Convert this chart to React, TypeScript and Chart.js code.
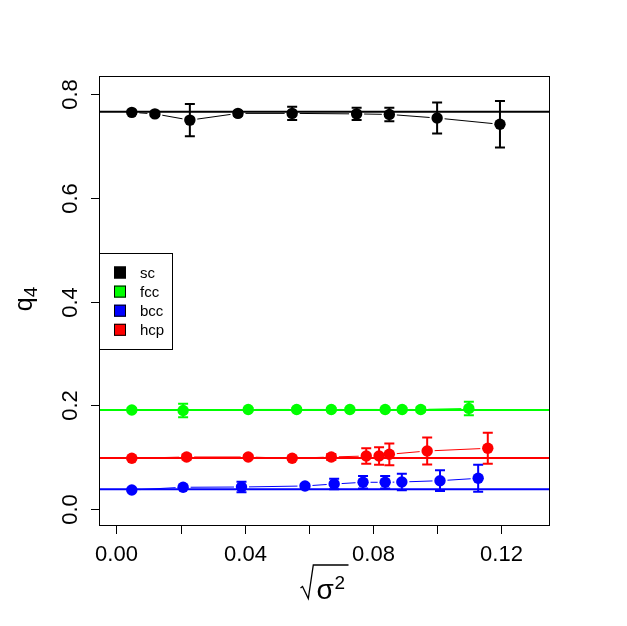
import { useEffect, useRef } from 'react';
import { Chart, registerables } from 'chart.js';

Chart.register(...registerables);

const FONT = '"Liberation Sans", Arial, sans-serif';

// sc
const scX = [0.0048, 0.0120, 0.0229, 0.0379, 0.0548, 0.0749, 0.0851, 0.1000, 0.1196];
const scY = [0.765, 0.762, 0.750, 0.763, 0.763, 0.762, 0.761, 0.754, 0.742];
const scErr = [0.003, 0.004, 0.031, 0.004, 0.013, 0.012, 0.013, 0.030, 0.045];

// fcc
const fccX = [0.0048, 0.0208, 0.0411, 0.0562, 0.0670, 0.0728, 0.0838, 0.0891, 0.0949, 0.1099];
const fccY = [0.191, 0.190, 0.192, 0.192, 0.192, 0.192, 0.192, 0.192, 0.192, 0.194];
const fccErr = [0.003, 0.013, 0.003, 0.003, 0.003, 0.003, 0.003, 0.003, 0.004, 0.013];

// bcc
const bccX = [0.0048, 0.0208, 0.0390, 0.0588, 0.0679, 0.0769, 0.0838, 0.0890, 0.1009, 0.1128];
const bccY = [0.0366, 0.0419, 0.0424, 0.0444, 0.0482, 0.0515, 0.0515, 0.0521, 0.0546, 0.0592];
const bccErr = [0.002, 0.003, 0.010, 0.004, 0.010, 0.012, 0.012, 0.016, 0.020, 0.026];

// hcp
const hcpX = [0.0048, 0.0219, 0.0411, 0.0548, 0.0670, 0.0779, 0.0819, 0.0851, 0.0969, 0.1158];
const hcpY = [0.0978, 0.1003, 0.1003, 0.0978, 0.1003, 0.1022, 0.1022, 0.1055, 0.1119, 0.1171];
const hcpErr = [0.002, 0.005, 0.003, 0.003, 0.006, 0.015, 0.017, 0.021, 0.026, 0.030];

const seriesNames = ['sc', 'fcc', 'bcc', 'hcp'];
const seriesColors = ['#000000', '#00ff00', '#0000ff', '#ff0000'];
const seriesX = [scX, fccX, bccX, hcpX];
const seriesY = [scY, fccY, bccY, hcpY];
const seriesErr = [scErr, fccErr, bccErr, hcpErr];
// horizontal reference levels (abline)
const refLevels = [0.766, 0.191, 0.038, 0.0984];

const xTicks = [0, 0.02, 0.04, 0.06, 0.08, 0.1, 0.12];
const xTickLabels = ['0.00', '', '0.04', '', '0.08', '', '0.12'];
const yTicks = [0, 0.2, 0.4, 0.6, 0.8];
const yTickLabels = ['0.0', '0.2', '0.4', '0.6', '0.8'];

const GAP = 7.5;

const rStyle = {
  id: 'rStyle',
  beforeDatasetsDraw(chart: any) {
    // type = "b" style lines, broken around the points
    const ctx = chart.ctx;
    const { left, top, right, bottom } = chart.chartArea;
    ctx.save();
    ctx.beginPath();
    ctx.rect(left, top, right - left, bottom - top);
    ctx.clip();
    ctx.lineWidth = 1;
    chart.data.datasets.forEach((ds: any, i: number) => {
      const pts = chart.getDatasetMeta(i).data;
      ctx.strokeStyle = ds.backgroundColor;
      for (let k = 0; k < pts.length - 1; k++) {
        const a = pts[k];
        const b = pts[k + 1];
        const dx = b.x - a.x;
        const dy = b.y - a.y;
        const d = Math.hypot(dx, dy);
        if (d <= 2 * GAP) continue;
        const ux = dx / d;
        const uy = dy / d;
        ctx.beginPath();
        ctx.moveTo(a.x + ux * GAP, a.y + uy * GAP);
        ctx.lineTo(b.x - ux * GAP, b.y - uy * GAP);
        ctx.stroke();
      }
    });
    ctx.restore();
  },
  afterDatasetsDraw(chart: any) {
    const ctx = chart.ctx;
    const xs = chart.scales.x;
    const ys = chart.scales.y;
    const { left, top, right, bottom } = chart.chartArea;
    ctx.save();
    ctx.beginPath();
    ctx.rect(left, top, right - left, bottom - top);
    ctx.clip();
    // error bars
    ctx.lineWidth = 2;
    seriesX.forEach((xv, i) => {
      ctx.strokeStyle = seriesColors[i];
      xv.forEach((x, k) => {
        const e = seriesErr[i][k];
        const px = xs.getPixelForValue(x);
        const y1 = ys.getPixelForValue(seriesY[i][k] + e);
        const y2 = ys.getPixelForValue(seriesY[i][k] - e);
        ctx.beginPath();
        ctx.moveTo(px, y1);
        ctx.lineTo(px, y2);
        ctx.moveTo(px - 5, y1);
        ctx.lineTo(px + 5, y1);
        ctx.moveTo(px - 5, y2);
        ctx.lineTo(px + 5, y2);
        ctx.stroke();
      });
    });
    // reference lines
    refLevels.forEach((v, i) => {
      const py = ys.getPixelForValue(v);
      ctx.strokeStyle = seriesColors[i];
      ctx.beginPath();
      ctx.moveTo(left, py);
      ctx.lineTo(right, py);
      ctx.stroke();
    });
    ctx.restore();
  },
  afterDraw(chart: any) {
    const ctx = chart.ctx;
    const xs = chart.scales.x;
    const ys = chart.scales.y;
    const { left, top, right, bottom } = chart.chartArea;
    ctx.save();
    ctx.strokeStyle = '#000';
    ctx.fillStyle = '#000';
    ctx.lineWidth = 1;
    ctx.strokeRect(left + 0.5, top + 0.5, right - left - 1, bottom - top - 1);

    // x axis
    ctx.font = `22px ${FONT}`;
    ctx.textAlign = 'center';
    ctx.textBaseline = 'alphabetic';
    xTicks.forEach((v, i) => {
      const px = Math.round(xs.getPixelForValue(v)) + 0.5;
      ctx.beginPath();
      ctx.moveTo(px, bottom);
      ctx.lineTo(px, bottom + 8);
      ctx.stroke();
      if (xTickLabels[i]) ctx.fillText(xTickLabels[i], px, 561);
    });

    // y axis
    yTicks.forEach((v, i) => {
      const py = Math.round(ys.getPixelForValue(v)) + 0.5;
      ctx.beginPath();
      ctx.moveTo(left, py);
      ctx.lineTo(left - 8, py);
      ctx.stroke();
      ctx.save();
      ctx.translate(77, py);
      ctx.rotate(-Math.PI / 2);
      ctx.fillText(yTickLabels[i], 0, 0);
      ctx.restore();
    });

    // y title: q with subscript 4
    ctx.save();
    ctx.translate(31.5, (top + bottom) / 2 - 2);
    ctx.rotate(-Math.PI / 2);
    ctx.textAlign = 'left';
    ctx.font = `25px ${FONT}`;
    ctx.fillText('q', -12.2, 0);
    ctx.font = `19px ${FONT}`;
    ctx.fillText('4', 1.8, 5.4);
    ctx.restore();

    // x title: sqrt(sigma^2)
    ctx.textAlign = 'left';
    ctx.lineWidth = 1.3;
    ctx.beginPath();
    ctx.moveTo(300.5, 588);
    ctx.lineTo(302.5, 586.5);
    ctx.lineTo(308.3, 598.5);
    ctx.lineTo(313.3, 565);
    ctx.lineTo(348.5, 565);
    ctx.stroke();
    ctx.font = `28px ${FONT}`;
    ctx.fillText('σ', 316.5, 599);
    ctx.font = `19px ${FONT}`;
    ctx.fillText('2', 334.5, 588.5);

    // legend
    ctx.lineWidth = 1;
    ctx.strokeRect(99.5, 253.5, 73, 96);
    ctx.font = `15px ${FONT}`;
    ctx.textBaseline = 'middle';
    seriesNames.forEach((name, i) => {
      const cy = 272.5 + i * 19.1;
      ctx.fillStyle = seriesColors[i];
      ctx.fillRect(114, cy - 6, 12, 12);
      ctx.strokeStyle = '#000';
      ctx.strokeRect(114.5, cy - 5.5, 11, 11);
      ctx.fillStyle = '#000';
      ctx.fillText(name, 140, cy + 1);
    });
    ctx.restore();
  },
};

export default function App() {
  const canvasRef = useRef<HTMLCanvasElement | null>(null);

  useEffect(() => {
    if (!canvasRef.current) return;
    const chart = new Chart(canvasRef.current, {
      type: 'scatter',
      data: {
        datasets: seriesNames.map((name, i) => ({
          label: name,
          data: seriesX[i].map((x, k) => ({ x, y: seriesY[i][k] })),
          backgroundColor: seriesColors[i],
          borderColor: seriesColors[i],
          borderWidth: 0,
          pointRadius: 5.7,
          showLine: false,
        })),
      },
      options: {
        responsive: false,
        animation: false,
        layout: { padding: { left: 99, top: 76, right: 77, bottom: 100 } },
        plugins: {
          legend: { display: false },
          tooltip: { enabled: false },
        },
        scales: {
          x: { type: 'linear', min: -0.00543, max: 0.1352, display: false },
          y: { type: 'linear', min: -0.0328, max: 0.8351, display: false },
        },
      },
      plugins: [rStyle],
    });
    return () => chart.destroy();
  }, []);

  return (
    <div style={{ position: 'fixed', left: 0, top: 0, width: 627, height: 626, background: '#fff' }}>
      <canvas ref={canvasRef} width={627} height={626} />
    </div>
  );
}
